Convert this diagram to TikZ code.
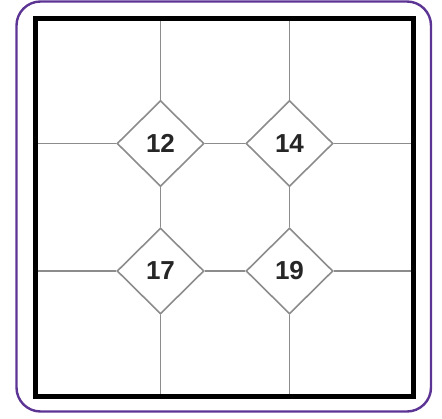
\documentclass[tikz,border=0pt]{standalone}
\usepackage{fontspec}
\setmainfont{Liberation Sans}
\usetikzlibrary{shapes.geometric}
\definecolor{framepurple}{RGB}{92,52,148}
\definecolor{gridgray}{RGB}{140,140,140}
\newcommand{\NUM}[1]{\fontsize{26}{26}\selectfont\bfseries #1}

\begin{document}
\begin{tikzpicture}[x=1pt,y=-1pt,
    cell/.style={diamond,draw=gridgray,line width=1.6pt,fill=white,text=black!85,
                 minimum width=87pt,minimum height=86pt,inner sep=0pt},
    grid/.style={gridgray,line width=1.6pt}]
    \useasboundingbox (0,0) rectangle (442,418);

    % outer frame
    \draw[framepurple,line width=2.4pt,rounded corners=24pt] (16.5,1.5) rectangle (431,411.5);

    \coordinate (tl) at (35,18);
    \coordinate (br) at (413.5,396);

    % diamonds
    \foreach \n/\x/\y in {12/160.5/143.5,14/289.5/143.5,17/160.5/271,19/289.5/271} {
        \node[cell] (d\n) at (\x,\y) {\NUM{\n}};
    }

    % vertical lines
    \draw[grid] (d12.north) -- (d12.north |- tl);
    \draw[grid] (d12.south) -- (d17.north);
    \draw[grid] (d17.south) -- (d17.south |- br);
    \draw[grid] (d14.north) -- (d14.north |- tl);
    \draw[grid] (d14.south) -- (d19.north);
    \draw[grid] (d19.south) -- (d19.south |- br);

    % horizontal lines
    \draw[grid] (d12.west) -- (d12.west -| tl);
    \draw[grid] (d12.east) -- (d14.west);
    \draw[grid] (d14.east) -- (d14.east -| br);
    \draw[grid] (d17.west) -- (d17.west -| tl);
    \draw[grid] (d17.east) -- (d19.west);
    \draw[grid] (d19.east) -- (d19.east -| br);

    % square
    \draw[black,line width=5pt] (tl) rectangle (br);
\end{tikzpicture}
\end{document}
